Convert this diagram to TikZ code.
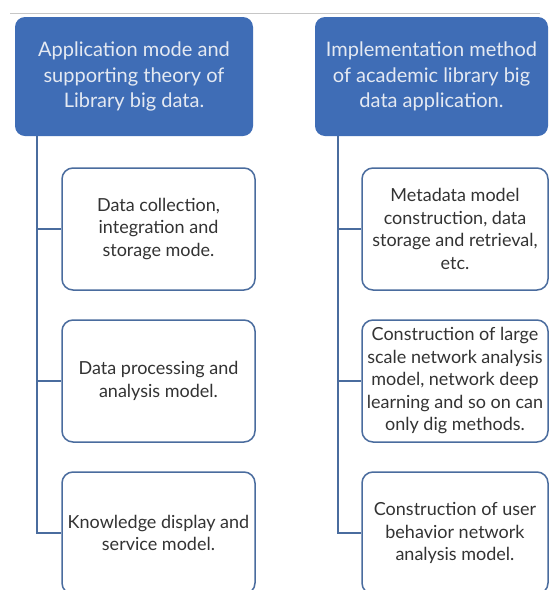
\documentclass[tikz,border=0pt]{standalone}
\usepackage{fontspec}
\setmainfont{Lato}
\usepackage{tikz}
\usetikzlibrary{arrows.meta}
\usetikzlibrary{backgrounds}

\definecolor{hdrblue}{HTML}{3F6DB6}
\definecolor{boxline}{HTML}{4A6C9E}
\definecolor{txtgray}{HTML}{333333}
\definecolor{hdrtext}{HTML}{E4E9F2}

\tikzset{
  header/.style={draw=none, fill=hdrblue, rounded corners=10pt, text=hdrtext,
    align=center, font=\fontsize{20}{25.5}\selectfont, inner sep=0pt},
  item/.style={draw=boxline, line width=1.5pt, fill=white, rounded corners=11pt,
    text=txtgray, align=center, font=\fontsize{18}{22.5}\selectfont, inner sep=0pt},
  link/.style={draw=boxline, line width=1.8pt}
}

\begin{document}
\begin{tikzpicture}[x=1pt, y=-1pt]
        \useasboundingbox (0,0) rectangle (550,590);
        \clip (0,0) rectangle (550,590);
        \fill[white] (0,0) rectangle (550,590);
        \draw[gray!45, line width=0.8pt] (10,13) -- (540,13);

        \node[header, minimum width=238pt, minimum height=119pt] (hdrL) at (134,76.5) {Application mode and\\supporting theory of\\Library big data.};
        \node[header, minimum width=233pt, minimum height=119pt] (hdrR) at (431.5,76.5) {Implementation method\\of academic library big\\data application.};

        \node[item, minimum width=193pt, minimum height=122pt] (itemL1) at (158.5,229) {Data collection,\\integration and\\storage mode.};
        \node[item, minimum width=193pt, minimum height=122pt] (itemL2) at (158.5,381) {Data processing and\\analysis model.};
        \node[item, minimum width=193pt, minimum height=122pt] (itemL3) at (158.5,533) {Knowledge display and\\service model.};

        \node[item, minimum width=186pt, minimum height=122pt] (itemR1) at (455,229) {Metadata model\\construction, data\\storage and retrieval,\\etc.};
        \node[item, minimum width=186pt, minimum height=122pt] (itemR2) at (455,381) {Construction of large\\scale network analysis\\model, network deep\\learning and so on can\\only dig methods.};
        \node[item, minimum width=186pt, minimum height=122pt] (itemR3) at (455,533) {Construction of user\\behavior network\\analysis model.};

        \coordinate (trunkL) at ([xshift=22pt]hdrL.south west);
        \coordinate (trunkR) at ([xshift=23pt]hdrR.south west);

        \draw[link] (trunkL) |- (itemL3.west);
        \draw[link] (trunkL) |- (itemL1.west);
        \draw[link] (trunkL) |- (itemL2.west);
        \draw[link] (trunkR) |- (itemR3.west);
        \draw[link] (trunkR) |- (itemR1.west);
        \draw[link] (trunkR) |- (itemR2.west);
    \end{tikzpicture}
\end{document}
